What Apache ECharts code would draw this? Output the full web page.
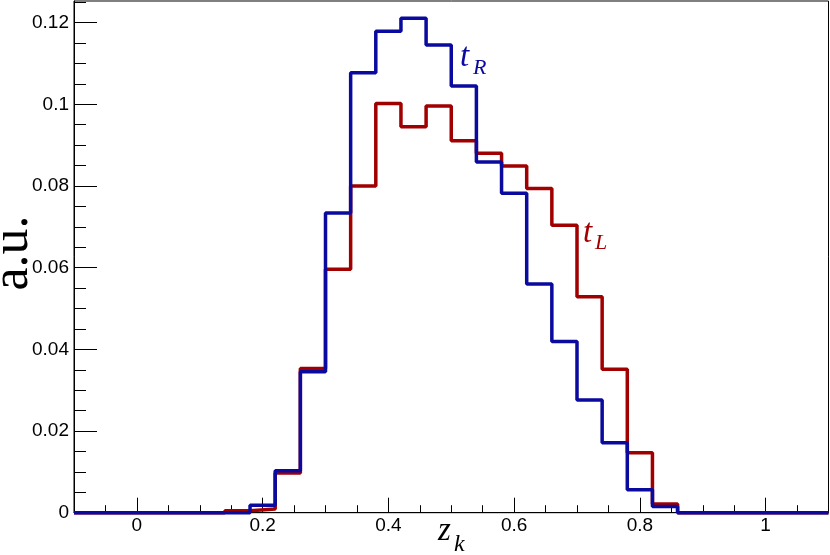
<!DOCTYPE html>
<html>
<head>
<meta charset="utf-8">
<script src="https://cdn.jsdelivr.net/npm/echarts@6/dist/echarts.min.js"></script>
<style>
  html, body { margin: 0; padding: 0; background: #fff; }
  #chart { width: 830px; height: 555px; }
</style>
</head>
<body>
<div id="chart"></div>
<script>
// histogram binning: 30 bins of width 0.04 starting at -0.1
const binLow = -0.1;
const binWidth = 0.04;

// t_L (red)
const tL = [0, 0, 0, 0, 0, 0, 0.0005, 0.0009, 0.0097, 0.0353,
  0.0596, 0.0800, 0.1002, 0.0945, 0.0996, 0.0911, 0.0880, 0.0849, 0.0794, 0.0704,
  0.0529, 0.0351, 0.0147, 0.0021, 0, 0, 0, 0, 0, 0];

// t_R (blue)
const tR = [0, 0, 0, 0, 0, 0, 0, 0.0018, 0.0103, 0.0345,
  0.0734, 0.1077, 0.1179, 0.1211, 0.1145, 0.1045, 0.0859, 0.0782, 0.0560, 0.0419,
  0.0276, 0.0171, 0.0056, 0.0015, 0, 0, 0, 0, 0, 0];

const xTicks = [0, 0.2, 0.4, 0.6, 0.8, 1];
const yTicks = [0, 0.02, 0.04, 0.06, 0.08, 0.1, 0.12];

const xMinor = [];
for (let i = -2; i <= 22; i++) xMinor.push(+(i * 0.05).toFixed(2));
const yMinor = [];
for (let i = 0; i <= 25; i++) yMinor.push(+(i * 0.005).toFixed(3));

// step points: left edge of every bin, plus the last right edge
function stepData(vals) {
  const pts = vals.map((v, i) => [+(binLow + i * binWidth).toFixed(2), v]);
  pts.push([+(binLow + vals.length * binWidth).toFixed(2), vals[vals.length - 1]]);
  return pts;
}

const chart = echarts.init(document.getElementById('chart'));

const labelFont = { color: '#000', fontFamily: 'Liberation Sans', fontSize: 19 };

chart.setOption({
  animation: false,
  backgroundColor: '#fff',
  grid: {
    left: 74, right: 1.5, top: 1, bottom: 42.3,
    show: true, borderColor: '#000', borderWidth: 1
  },
  xAxis: [
    {
      type: 'value', min: -0.1, max: 1.1,
      axisLine: { show: true, onZero: false, lineStyle: { color: '#000', width: 1 } },
      axisTick: { inside: true, length: 15, customValues: xTicks, lineStyle: { color: '#000' } },
      axisLabel: Object.assign({ margin: 4, customValues: xTicks, formatter: v => String(v) }, labelFont),
      splitLine: { show: false }
    },
    {
      type: 'value', min: -0.1, max: 1.1, position: 'bottom',
      axisLine: { show: false, onZero: false },
      axisTick: { inside: true, length: 7.5, customValues: xMinor, lineStyle: { color: '#000' } },
      axisLabel: { show: false },
      splitLine: { show: false }
    }
  ],
  yAxis: [
    {
      type: 'value', min: 0, max: 0.1253,
      axisLine: { show: true, onZero: false, lineStyle: { color: '#000', width: 1 } },
      axisTick: { inside: true, length: 23, customValues: yTicks, lineStyle: { color: '#000' } },
      axisLabel: Object.assign({ margin: 5, customValues: yTicks, formatter: v => String(v) }, labelFont),
      splitLine: { show: false }
    },
    {
      type: 'value', min: 0, max: 0.1253, position: 'left',
      axisLine: { show: false, onZero: false },
      axisTick: { inside: true, length: 12, customValues: yMinor, lineStyle: { color: '#000' } },
      axisLabel: { show: false },
      splitLine: { show: false }
    }
  ],
  series: [
    {
      name: 't_L', type: 'line', step: 'end', data: stepData(tL),
      symbol: 'none', clip: false,
      lineStyle: { color: '#a00000', width: 3.5 }
    },
    {
      name: 't_R', type: 'line', step: 'end', data: stepData(tR),
      symbol: 'none', clip: false,
      lineStyle: { color: '#0a0a9e', width: 3.5 }
    }
  ],
  graphic: [
    { type: 'text', x: 13, y: 253, rotation: Math.PI / 2,
      style: { text: 'a.u.', font: '52px "Liberation Serif"', fill: '#000', align: 'center', verticalAlign: 'middle' } },
    { type: 'text', x: 438, y: 548,
      style: { text: 'z', font: 'italic 33px "Liberation Serif"', fill: '#000', verticalAlign: 'bottom' } },
    { type: 'text', x: 454, y: 557,
      style: { text: 'k', font: 'italic 24px "Liberation Serif"', fill: '#000', verticalAlign: 'bottom' } },
    { type: 'text', x: 460, y: 74,
      style: { text: 't', font: 'italic 33px "Liberation Serif"', fill: '#0a0a9e', verticalAlign: 'bottom' } },
    { type: 'text', x: 473, y: 79,
      style: { text: 'R', font: 'italic 22px "Liberation Serif"', fill: '#0a0a9e', verticalAlign: 'bottom' } },
    { type: 'text', x: 583, y: 250,
      style: { text: 't', font: 'italic 33px "Liberation Serif"', fill: '#a00000', verticalAlign: 'bottom' } },
    { type: 'text', x: 595, y: 254,
      style: { text: 'L', font: 'italic 22px "Liberation Serif"', fill: '#a00000', verticalAlign: 'bottom' } }
  ]
});
</script>
</body>
</html>
